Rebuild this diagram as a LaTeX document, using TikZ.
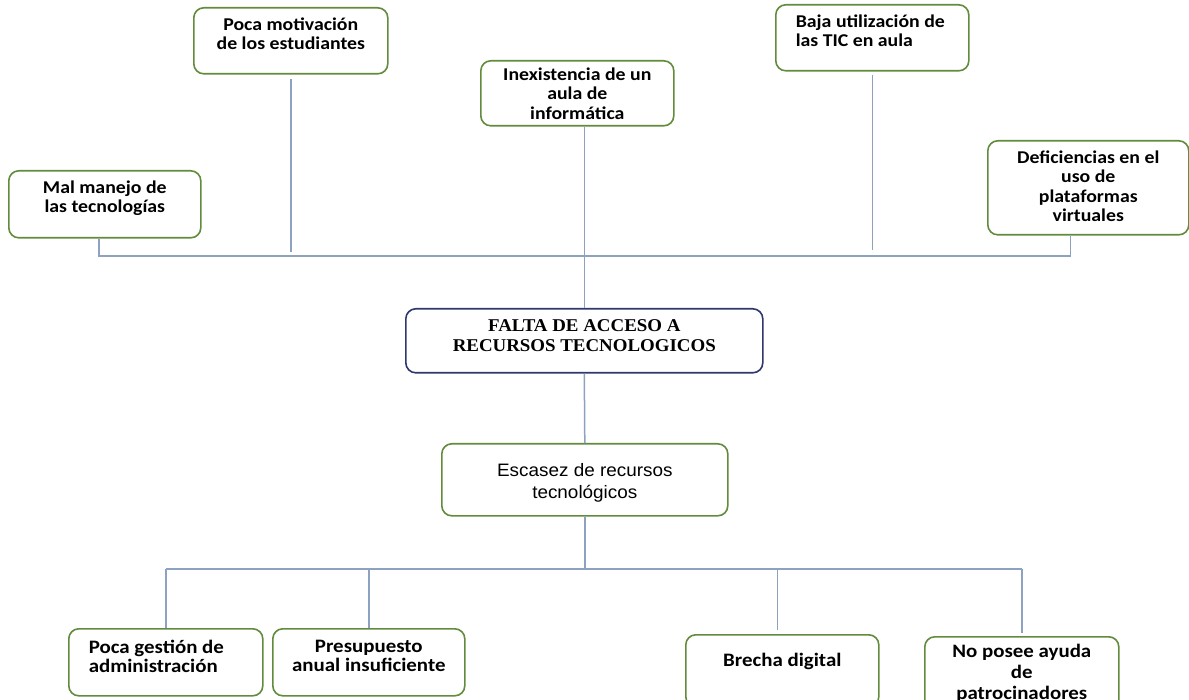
\documentclass[tikz,border=0pt]{standalone}
\usepackage{fontspec}
\setmainfont{Carlito}[FakeStretch=1.1]
\newfontfamily\timesf{Liberation Serif}[FakeStretch=1.05]
\newfontfamily\arialf{Liberation Sans}[FakeStretch=1.05]
\definecolor{verde}{RGB}{98,140,60}
\definecolor{azul}{RGB}{46,56,110}
\definecolor{linea}{RGB}{140,162,192}
\newcommand{\cajatxt}[5][\centering]{\parbox[c][#3pt][t]{#2pt}{\vspace*{#4pt}#1\strut #5}}

\begin{document}
\begin{tikzpicture}[x=1pt,y=-1pt,
 caja/.style={draw=verde, line width=1.6pt, rounded corners=10pt, fill=white, inner sep=0pt, anchor=north west, font=\fontsize{18}{19.5}\selectfont\bfseries},
 cajabaja/.style={caja, font=\fontsize{19}{19.5}\selectfont\bfseries},
 cajaazul/.style={caja, draw=azul, font=\fontsize{18}{20}\selectfont\timesf\bfseries},
 cajaarial/.style={caja, font=\fontsize{18}{22}\selectfont\arialf},
 conector/.style={draw=linea, line width=1.5pt}]
\useasboundingbox (0,0) rectangle (1189,700);
%draw causes
\node[caja] (mal) at (8,170) {\cajatxt{192}{67}{9}{Mal manejo de\\las tecnologías}};
\node[caja] (motiv) at (193,7) {\cajatxt{194}{66}{9}{Poca motivación\\de los estudiantes}};
\node[caja] (inex) at (480,60) {\cajatxt{193}{65}{6}{Inexistencia de un\\aula de\\informática}};
\node[caja] (baja) at (775,4) {\cajatxt[\raggedright\leftskip=20pt\relax]{193}{66}{9}{Baja utilización de\\las TIC en aula}};
\node[caja] (defi) at (987,140) {\cajatxt{201}{94}{9}{Deficiencias en el\\uso de\\plataformas\\virtuales}};
%draw problem
\node[cajaazul] (falta) at (405,308) {\cajatxt{357}{64}{9}{FALTA DE ACCESO A\\RECURSOS TECNOLOGICOS}};
\node[cajaarial] (esca) at (441,443) {\cajatxt{286}{72}{17}{Escasez de recursos\\tecnológicos}};
%draw effects
\node[cajabaja] (gestion) at (68,628) {\cajatxt[\raggedright\leftskip=20pt\relax]{194}{67}{11}{Poca gestión de\\administración}};
\node[cajabaja] (presu) at (272,628) {\cajatxt{192}{67}{10}{Presupuesto\\anual insuficiente}};
\node[cajabaja] (brecha) at (685,634) {\cajatxt{193}{72}{18}{Brecha digital}};
\node[cajabaja, font=\fontsize{19}{21}\selectfont\bfseries] (ayuda) at (924,636) {\cajatxt{194}{74}{6}{No posee ayuda\\de\\patrocinadores}};
%draw upper lines
\coordinate (bus1) at (0,256);
\coordinate (bus2) at (0,569);
\coordinate (malpie) at ([xshift=-6pt]mal.south);
\coordinate (defipie) at ([xshift=-18pt]defi.south);
\draw[conector] (malpie) -- (malpie |- bus1) -- (defipie |- bus1) -- (defipie);
\draw[conector, shorten <=4pt, shorten >=4pt] (motiv.south) -- (motiv.south |- bus1);
\draw[conector, shorten <=3pt, shorten >=6pt] (baja.south) -- (baja.south |- bus1);
\draw[conector] (falta.north) -- (falta.north |- inex.south);
%draw lower lines
\draw[conector] (falta.south) -- (esca.north);
\draw[conector] (esca.south) -- (esca.south |- bus2);
\draw[conector] (gestion.north |- bus2) -- (ayuda.north |- bus2);
\foreach \n in {gestion, presu}{
\draw[conector] (\n.north |- bus2) -- (\n.north); }
\coordinate (brechatop) at ([xshift=-5pt]brecha.north);
\draw[conector, shorten >=4pt] (brechatop |- bus2) -- (brechatop);
\draw[conector, shorten >=3pt] (ayuda.north |- bus2) -- (ayuda.north);
\end{tikzpicture}
\end{document}
